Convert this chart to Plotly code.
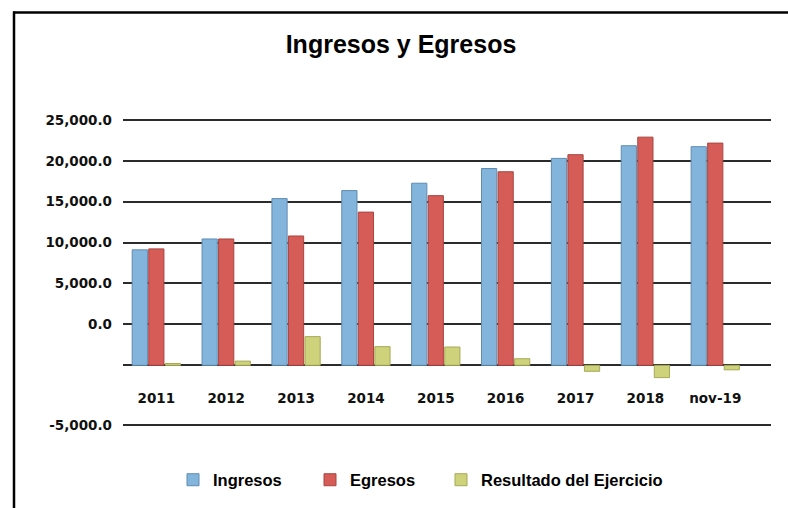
import plotly.graph_objects as go

# ---- data ----
categories = ["2011", "2012", "2013", "2014", "2015", "2016", "2017", "2018", "nov-19"]
ingresos = [9670, 10580, 13960, 14630, 15250, 16480, 17330, 18390, 18310]
egresos = [9750, 10580, 10830, 12830, 14210, 16210, 17640, 19110, 18610]
resultado = [150, 350, 2400, 1560, 1530, 550, -500, -1030, -380]

series_names = ["Ingresos", "Egresos", "Resultado del Ejercicio"]

# back-wall gridlines of the 3D chart and their labels
wall_ticks = [-5000, 0, 5000, 10000, 15000, 20000, 25000]
wall_labels = ["", "0.0", "5,000.0", "10,000.0", "15,000.0", "20,000.0", "25,000.0"]
# front (floor edge) tick
front_ticks = [-5000]
front_labels = ["-5,000.0"]

# ---- layout geometry (pixels) ----
W, H = 788, 508
PLOT_L, PLOT_R, PLOT_T, PLOT_B = 123, 771, 112, 434
FRONT_ZERO_PX = 365.3
FRONT_PX_PER_UNIT = 59.7 / 5000
WALL_ZERO_PX = 324.3
WALL_PX_PER_UNIT = 40.88 / 5000
XAXIS_PX = 388
LEGEND_X_PX = [173, 310, 441]
LEGEND_Y_PX = 480


def px_to_value(py):
    return (FRONT_ZERO_PX - py) / FRONT_PX_PER_UNIT


def wall_to_value(w):
    return px_to_value(WALL_ZERO_PX - w * WALL_PX_PER_UNIT)


def px_x(px):
    return (px - PLOT_L) / (PLOT_R - PLOT_L)


def px_y(py):
    return (PLOT_B - py) / (PLOT_B - PLOT_T)


y_range = [px_to_value(PLOT_B), px_to_value(PLOT_T)]
tickvals = [wall_to_value(w) for w in wall_ticks] + front_ticks
ticktext = wall_labels + front_labels

colors = ["#83B4DB", "#D55C57", "#CED27A"]
edge_colors = ["#5F8CB3", "#A84541", "#A6A955"]
legend_ids = ["legend", "legend2", "legend3"]

fig = go.Figure()
for name, vals, c, ec, lg in zip(series_names, [ingresos, egresos, resultado],
                                 colors, edge_colors, legend_ids):
    fig.add_trace(go.Bar(
        x=categories, y=vals, name=name, legend=lg,
        marker=dict(color=c, line=dict(color=ec, width=1)),
        hoverinfo="x+y+name",
    ))

frame_shapes = [
    dict(type="line", xref="paper", yref="paper",
         x0=px_x(13), x1=px_x(792), y0=px_y(12.5), y1=px_y(12.5),
         line=dict(color="#000000", width=2.5)),
    dict(type="line", xref="paper", yref="paper",
         x0=px_x(14), x1=px_x(14), y0=px_y(11.5), y1=px_y(512),
         line=dict(color="#000000", width=2.5)),
]

tick_font = dict(family="DejaVu Sans", size=13.5, color="#111111", weight="bold")
legend_font = dict(family="Liberation Sans, Arial", size=16.5, color="#000000", weight="bold")

legends = {}
for lg, lx in zip(legend_ids, LEGEND_X_PX):
    legends[lg] = dict(orientation="h", xref="container", yref="container",
                       x=lx / W, y=1 - LEGEND_Y_PX / H, xanchor="left", yanchor="middle",
                       font=legend_font, bgcolor="rgba(0,0,0,0)")

fig.update_layout(
    width=W, height=H,
    margin=dict(l=PLOT_L, r=W - PLOT_R, t=PLOT_T, b=H - PLOT_B, autoexpand=False),
    paper_bgcolor="white", plot_bgcolor="white",
    barmode="group", bargap=0.29, bargroupgap=0.08,
    title=dict(text="Ingresos y Egresos", x=401 / W, y=1 - 44 / H,
               xref="container", yref="container",
               xanchor="center", yanchor="middle",
               font=dict(family="Liberation Sans, Arial", size=25, color="#000000", weight="bold")),
    xaxis=dict(type="category", range=[-0.477, 8.798], anchor="free",
               position=px_y(XAXIS_PX), showline=False, showgrid=False, ticks="",
               zeroline=False, tickfont=tick_font),
    yaxis=dict(range=y_range, tickmode="array", tickvals=tickvals, ticktext=ticktext,
               showgrid=True, gridcolor="#2b2b2b", gridwidth=1.8, zeroline=False,
               showline=False, ticks="", ticklabelstandoff=10, tickfont=tick_font),
    shapes=frame_shapes,
    showlegend=True,
    **legends,
)

fig.write_html("out.html", config={"displayModeBar": False},
               post_script="document.body.style.margin='0';")
